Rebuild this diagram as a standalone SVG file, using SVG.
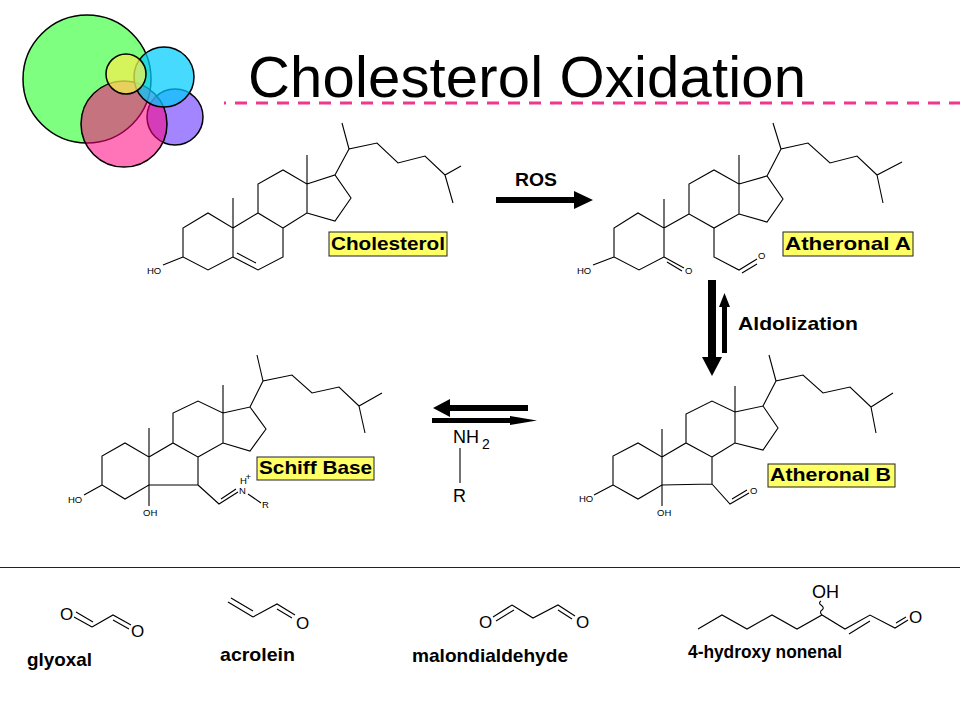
<svg xmlns="http://www.w3.org/2000/svg" width="960" height="720" viewBox="0 0 960 720">
<style>
.b{fill:none;stroke:#000;stroke-width:1.1;stroke-linejoin:miter;stroke-linecap:butt}
.ar{fill:#000;stroke:none}
.box{fill:#ffff66;stroke:#222;stroke-width:1}
.lbl{font-family:"Liberation Sans",Arial,sans-serif;font-weight:bold;font-size:19px;fill:#000}
.at{font-family:"Liberation Sans",Arial,sans-serif;font-size:9.5px;fill:#000}
.big{font-family:"Liberation Sans",Arial,sans-serif;font-size:17px;fill:#000}
.name{font-family:"Liberation Sans",Arial,sans-serif;font-weight:bold;font-size:19px;fill:#000}
.c{stroke:#000;stroke-width:1.5}
</style>
<rect width="960" height="720" fill="#fff"/>

<g id="logo">
<circle class="c" cx="87" cy="79" r="64" fill="#00ff00" fill-opacity="0.5"/>
<circle class="c" cx="175" cy="117" r="28" fill="#6633ff" fill-opacity="0.6"/>
<circle class="c" cx="124" cy="124" r="43" fill="#ff0080" fill-opacity="0.55"/>
<circle class="c" cx="164" cy="77" r="30" fill="#00ccff" fill-opacity="0.72"/>
<circle class="c" cx="126" cy="74" r="20" fill="#f2f050" fill-opacity="0.75"/>
</g>

<g id="title">
<text x="248" y="97" font-family="Liberation Sans, Arial, sans-serif" font-size="58" textLength="558" fill="#000">Cholesterol Oxidation</text>
<path d="M224,103 L960,103" stroke="#f0368e" stroke-width="3" stroke-dasharray="12 9" stroke-dashoffset="10" fill="none"/>
</g>

<g id="cholesterol">
<path class="b" d="M163,265 L183,257 M183,257 L183,228 L208,213 L233,228 L233,257 L208,270 Z M233,228 L233,198 M233,228 L258,213 L283,228 L283,257 L258,270 L233,257 M237,253 L256,263 M258,213 L258,184 L283,170 L307,184 L307,213 L283,228 M307,184 L307,155 M307,184 L335,175 L351,198 L335,221 L307,213 M335,175 L349,149 L377,143 L398,163 L425,156 L445,175 L461,166 M349,149 L342,123 M445,175 L453,203"/>
<text class="at" x="147" y="274">HO</text>
<rect class="box" x="329" y="232" width="118" height="24"/>
<text class="lbl" x="331" y="250" textLength="114" lengthAdjust="spacingAndGlyphs">Cholesterol</text>
</g>

<g id="atheronalA">
<path class="b" d="M593,265 L614,257 M614,257 L614,228 L638,213 L664,228 L664,257 L639,270 Z M664,228 L664,199 M664,257 L684,268 M667,262 L682,271 M664,228 L689,214 M689,214 L689,184 L714,170 L739,184 L739,214 L714,228 Z M739,184 L739,155 M739,184 L767,176 L783,199 L767,222 L739,214 M714,228 L714,257 L739,270 L757,259 M742,273 L757,264 M767,176 L781,149 L808,143 L830,163 L857,156 L877,175 L902,162 M781,149 L773,123 M877,175 L883,203"/>
<text class="at" x="577" y="274">HO</text>
<text class="at" x="685" y="274">O</text>
<text class="at" x="758" y="259">O</text>
<rect class="box" x="783" y="232" width="130" height="24"/>
<text class="lbl" x="785" y="250" textLength="126" lengthAdjust="spacingAndGlyphs">Atheronal A</text>
</g>

<g id="schiffBase">
<path class="b" d="M84,495 L102,485 M102,485 L102,456 L125,443 L149,457 L149,485 L125,499 Z M149,485 L149,506 M149,457 L149,428 M149,457 L173,443 L198,457 L198,485 L149,485 M173,443 L173,413 L198,401 L223,413 L223,443 L198,457 M223,413 L223,385 M223,413 L250,407 L266,429 L250,451 L223,443 M250,407 L263,381 L292,375 L312,393 L339,387 L359,406 L382,393 M263,381 L257,355 M359,406 L365,433 M198,485 L219,504 L238,492 M221,499 L236,489 M248,494 L261,503"/>
<text class="at" x="68" y="503">HO</text>
<text class="at" x="143" y="516">OH</text>
<text class="at" x="239" y="494">N</text>
<text class="at" x="240" y="484">H</text>
<text class="at" x="245.5" y="480" font-size="7">+</text>
<text class="at" x="262" y="508">R</text>
<rect class="box" x="257" y="457" width="117" height="23"/>
<text class="lbl" x="259" y="474" textLength="113" lengthAdjust="spacingAndGlyphs">Schiff Base</text>
</g>

<g id="atheronalB">
<path class="b" d="M594,495 L613,485 M613,485 L613,456 L638,443 L662,457 L662,485 L638,499 Z M662,485 L662,506 M662,457 L662,429 M662,457 L686,443 L712,457 L712,484 L662,485 M686,443 L686,414 L712,401 L735,412 L735,443 L712,457 M735,412 L735,386 M735,412 L763,406 L778,428 L763,450 L735,443 M763,406 L776,381 L803,375 L823,393 L850,387 L871,407 L893,393 M776,381 L769,355 M871,407 L876,433 M712,484 L730,504 L749,493 M732,499 L747,490"/>
<text class="at" x="579" y="502">HO</text>
<text class="at" x="657" y="516">OH</text>
<text class="at" x="750" y="494">O</text>
<rect class="box" x="768" y="464" width="127" height="23"/>
<text class="lbl" x="770" y="481" textLength="121" lengthAdjust="spacingAndGlyphs">Atheronal B</text>
</g>

<g id="amine">
<text x="453" y="443" font-family="Liberation Sans, Arial, sans-serif" font-size="18" fill="#000">NH</text>
<text x="482" y="449" font-family="Liberation Sans, Arial, sans-serif" font-size="14" fill="#000">2</text>
<path class="b" d="M460,448 L460,483" stroke-width="1.5"/>
<text x="453" y="502" font-family="Liberation Sans, Arial, sans-serif" font-size="18" fill="#000">R</text>
</g>

<g id="connectors">
<path class="ar" d="M496,197 L574,197 L574,191 L593,200 L574,209 L574,203 L496,203 Z"/>
<text x="515" y="186" font-family="Liberation Sans, Arial, sans-serif" font-weight="bold" font-size="18" textLength="42" lengthAdjust="spacingAndGlyphs" fill="#000">ROS</text>
<path class="ar" d="M708,280 L716,280 L716,357 L722,357 L712,376 L702,357 L708,357 Z"/>
<path class="ar" d="M722,353 L727,353 L727,307 L730,307 L724.5,293 L719,307 L722,307 Z"/>
<text x="738" y="330" font-family="Liberation Sans, Arial, sans-serif" font-weight="bold" font-size="19" textLength="120" lengthAdjust="spacingAndGlyphs" fill="#000">Aldolization</text>
<path class="ar" d="M528,405 L450,405 L450,399 L433,408 L450,417 L450,411 L528,411 Z"/>
<path class="ar" d="M432,418 L510,418 L510,416 L537,420.5 L510,425 L510,423 L432,423 Z"/>
</g>

<path d="M0,567.5 L960,567.5" stroke="#222" stroke-width="1.2" fill="none"/>

<g id="glyoxal">
<text class="big" x="60" y="620">O</text>
<path class="b" d="M74,617 L92,627 M76,612 L93,622 M92,627 L113,615 L131,625 M113,620 L129,629"/>
<text class="big" x="131" y="637">O</text>
<text class="name" x="27" y="666" font-size="20" textLength="65" lengthAdjust="spacingAndGlyphs">glyoxal</text>
</g>

<g id="acrolein">
<path class="b" d="M228,602 L253,617 M231,598 L253,611 M253,617 L277,604 L295,615 M277,609 L292,618"/>
<text class="big" x="296" y="629">O</text>
<text class="name" x="220" y="661" textLength="75" lengthAdjust="spacingAndGlyphs">acrolein</text>
</g>

<g id="malondialdehyde">
<text class="big" x="479" y="628">O</text>
<path class="b" d="M493,617 L512,605 M496,621 L514,610 M512,605 L533,618 L558,605 L575,616 M558,610 L572,619"/>
<text class="big" x="576" y="628">O</text>
<text class="name" x="412" y="662" textLength="156" lengthAdjust="spacingAndGlyphs">malondialdehyde</text>
</g>

<g id="hne">
<path class="b" d="M698,629 L722,615 L747,629 L772,615 L797,629 L822,615 L845,629 L870,615 L895,628 L908,620 M849,634 L870,621 M896,623 L906,617 M822,615 Q819,612 822,610 Q825,608 821,605 Q818,603 821,601"/>
<text x="812" y="598" font-family="Liberation Sans, Arial, sans-serif" font-size="18" fill="#000">OH</text>
<text x="909" y="623" font-family="Liberation Sans, Arial, sans-serif" font-size="17" fill="#000">O</text>
<text class="name" x="688" y="658" font-size="20" textLength="154" lengthAdjust="spacingAndGlyphs">4-hydroxy nonenal</text>
</g>
</svg>
